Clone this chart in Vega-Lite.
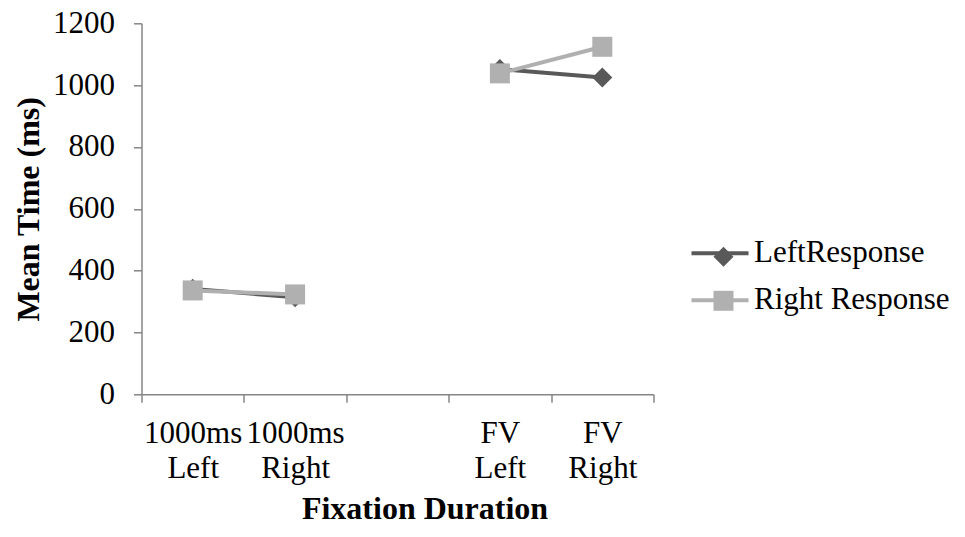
{
  "$schema": "https://vega.github.io/schema/vega-lite/v6.json",
  "width": 512,
  "height": 371,
  "autosize": "none",
  "padding": {"left": 141.5, "top": 23.3, "right": 311.5, "bottom": 142.7},
  "background": "white",
  "config": {
    "view": {"stroke": null},
    "font": "Liberation Serif",
    "axis": {
      "domainColor": "#868686",
      "tickColor": "#868686",
      "domainWidth": 1.5,
      "tickWidth": 1.5,
      "tickSize": 8,
      "labelColor": "#000000",
      "labelFont": "Liberation Serif",
      "labelFontSize": 31,
      "titleColor": "#000000",
      "titleFont": "Liberation Serif",
      "titleFontSize": 32,
      "titleFontWeight": "bold",
      "grid": false
    },
    "legend": {
      "title": null,
      "orient": "none",
      "padding": 0,
      "symbolOpacity": 1,
      "labelFont": "Liberation Serif",
      "labelFontSize": 31,
      "labelColor": "#000000",
      "labelOffset": 12,
      "labelLimit": 400
    }
  },
  "data": {
    "values": [
      {"cat": "1000ms Left", "block": "1000ms", "series": "LeftResponse", "time": 341},
      {"cat": "1000ms Right", "block": "1000ms", "series": "LeftResponse", "time": 314},
      {"cat": "FV Left", "block": "FV", "series": "LeftResponse", "time": 1052},
      {"cat": "FV Right", "block": "FV", "series": "LeftResponse", "time": 1025},
      {"cat": "1000ms Left", "block": "1000ms", "series": "Right Response", "time": 336},
      {"cat": "1000ms Right", "block": "1000ms", "series": "Right Response", "time": 323},
      {"cat": "FV Left", "block": "FV", "series": "Right Response", "time": 1038},
      {"cat": "FV Right", "block": "FV", "series": "Right Response", "time": 1124}
    ]
  },
  "encoding": {
    "x": {
      "field": "cat",
      "type": "nominal",
      "sort": null,
      "scale": {
        "type": "band",
        "domain": ["1000ms Left", "1000ms Right", "gap", "FV Left", "FV Right"],
        "paddingInner": 0,
        "paddingOuter": 0
      },
      "axis": {
        "title": "Fixation Duration",
        "labelAngle": 0,
        "tickBand": "extent",
        "labelPadding": 16,
        "labelLineHeight": 35,
        "labelExpr": "datum.label == 'gap' ? '' : split(datum.label, ' ')",
        "titleX": 283,
        "titleY": 114,
        "titleBaseline": "middle",
        "titleAlign": "center"
      }
    },
    "y": {
      "field": "time",
      "type": "quantitative",
      "scale": {"domain": [0, 1200], "nice": false},
      "axis": {
        "title": "Mean Time (ms)",
        "values": [0, 200, 400, 600, 800, 1000, 1200],
        "format": "d",
        "labelPadding": 19,
        "titleAngle": -90,
        "titleX": -103.5,
        "titleY": 185.5,
        "titleAlign": "center",
        "titleBaseline": "alphabetic"
      }
    }
  },
  "layer": [
    {
      "mark": {"type": "line", "strokeWidth": 4},
      "encoding": {
        "color": {
          "field": "series",
          "type": "nominal",
          "scale": {"domain": ["LeftResponse", "Right Response"], "range": ["#595959", "#B0B0B0"]},
          "legend": {
            "legendX": 556.5,
            "legendY": 208,
            "symbolType": "M-1.425,0H1.425",
            "symbolSize": 1600,
            "symbolStrokeWidth": 4,
            "rowPadding": 10
          }
        },
        "detail": {"field": "block"}
      }
    },
    {
      "mark": {"type": "point", "filled": true, "size": 400, "opacity": 1, "strokeWidth": 0},
      "encoding": {
        "fill": {
          "field": "series",
          "type": "nominal",
          "scale": {"range": ["#595959", "#B0B0B0"]},
          "legend": {
            "legendX": 566.5,
            "legendY": 218,
            "symbolSize": 400,
            "symbolStrokeWidth": 0,
            "rowPadding": 12,
            "labelExpr": "''"
          }
        },
        "shape": {
          "field": "series",
          "type": "nominal",
          "scale": {"range": ["diamond", "square"]},
          "legend": {
            "legendX": 566.5,
            "legendY": 218,
            "symbolSize": 400,
            "symbolStrokeWidth": 0,
            "rowPadding": 12,
            "labelExpr": "''"
          }
        }
      }
    }
  ]
}
